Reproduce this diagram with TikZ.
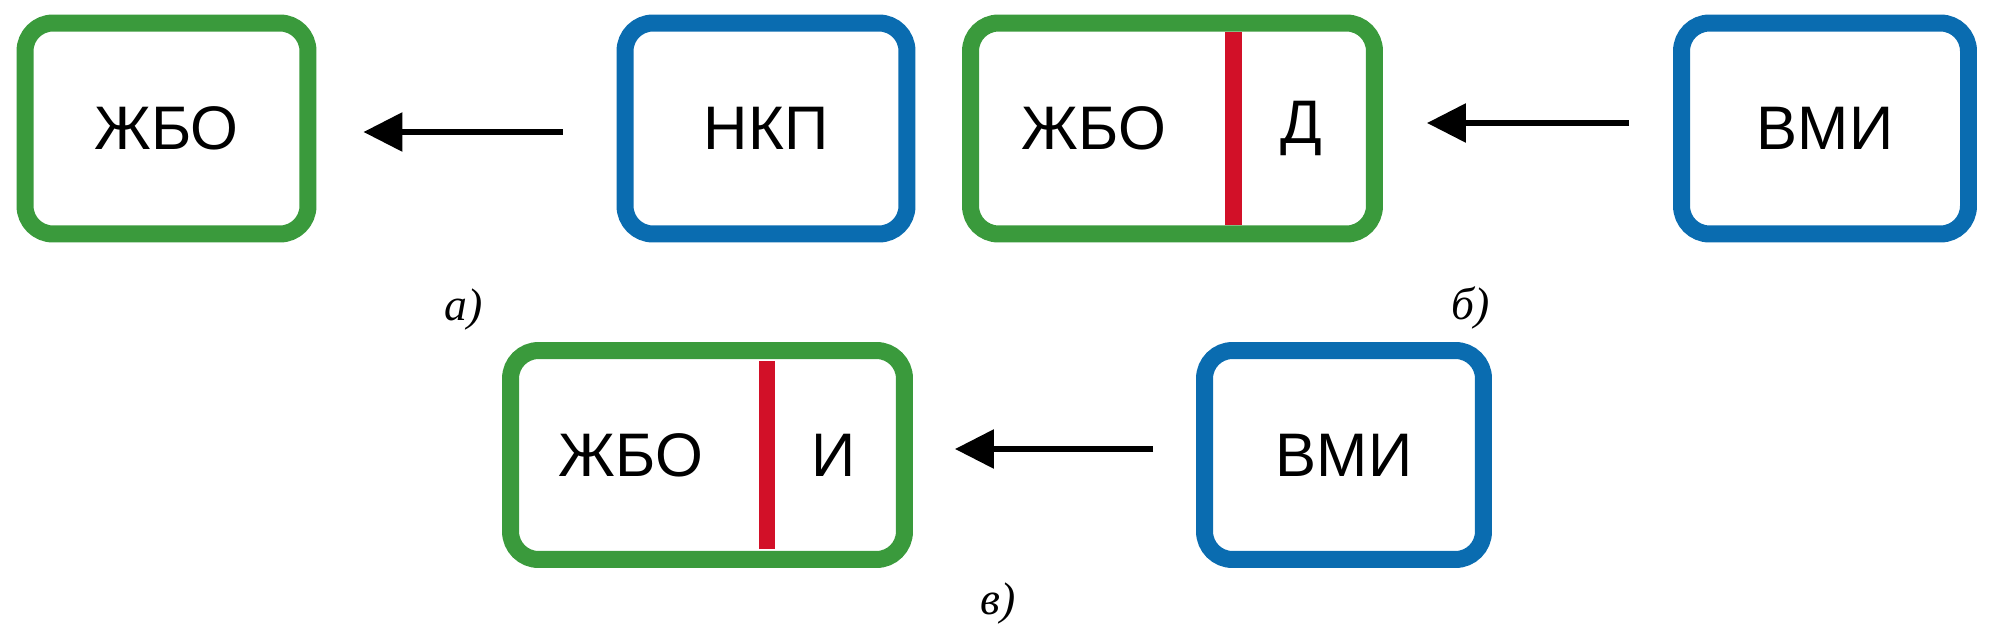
\documentclass[tikz,border=0pt]{standalone}
\usepackage{fontspec}
\setmainfont{Liberation Serif}
\newfontfamily\boxfont{Liberation Sans}
\usetikzlibrary{arrows.meta}
\definecolor{boxgreen}{RGB}{58,154,60}
\definecolor{boxblue}{RGB}{10,108,176}
\definecolor{divred}{RGB}{210,16,40}
\tikzset{
	block/.style={draw, line width=0.34cm, rounded corners=0.56cm, outer sep=0pt, inner sep=0pt, minimum height=4.22cm, font=\boxfont\fontsize{35}{40}\selectfont},
	blocktext/.style={inner sep=0pt, font=\boxfont\fontsize{35}{40}\selectfont},
	divider/.style={draw=divred, line width=0.33cm},
	feed/.style={line width=0.12cm, -{Triangle[length=0.78cm, width=0.76cm]}},
	caption/.style={inner sep=0pt, font=\itshape\fontsize{26}{30}\selectfont}
}

\begin{document}
\begin{tikzpicture}[x=0.02cm, y=-0.02cm]
			%%%%% START %%%%%
			
			\useasboundingbox (0, 0) rectangle (2007, 635);
			
			% a)
			\node[block, draw=boxgreen, minimum width=5.66cm] (zbo1) at (166.5, 128.5) {ЖБО};
			\node[block, draw=boxblue, minimum width=5.64cm] (nkp) at (766, 128.5) {НКП};
			\draw[feed, shorten >=1.11cm, shorten <=1.25cm] ([yshift=-0.07cm]nkp.west) -- ([yshift=-0.07cm]zbo1.east);
			\node[caption] (capa) at (464, 310) {а)};
			
			% b)
			\node[block, draw=boxgreen, minimum width=8.08cm] (zbo2) at (1172.5, 128.5) {};
			\node[blocktext] (zbo2l) at (1094, 128.5) {ЖБО};
			\node[blocktext] (zbo2r) at (1301, 128.5) {Д};
			\draw[divider] (1233.5, 32) -- (1233.5, 225);
			\node[block, draw=boxblue, minimum width=5.74cm] (vmi1) at (1825, 128.5) {ВМИ};
			\draw[feed, shorten >=1.05cm, shorten <=1.05cm] ([yshift=0.11cm]vmi1.west) -- ([yshift=0.11cm]zbo2.east);
			\node[caption] (capb) at (1471, 308) {б)};
			
			% c)
			\node[block, draw=boxgreen, minimum width=7.88cm, minimum height=4.18cm] (zbo3) at (707.5, 455) {};
			\node[blocktext] (zbo3l) at (631, 455) {ЖБО};
			\node[blocktext] (zbo3r) at (834, 455) {И};
			\draw[divider] (767, 361) -- (767, 549);
			\node[block, draw=boxblue, minimum width=5.58cm, minimum height=4.18cm] (vmi2) at (1344, 455) {ВМИ};
			\draw[feed, shorten >=1.01cm, shorten <=1.03cm] ([yshift=0.12cm]vmi2.west) -- ([yshift=0.12cm]zbo3.east);
			\node[caption] (capc) at (998, 604) {в)};
			
			%%%%% END %%%%%
		\end{tikzpicture}
\end{document}
